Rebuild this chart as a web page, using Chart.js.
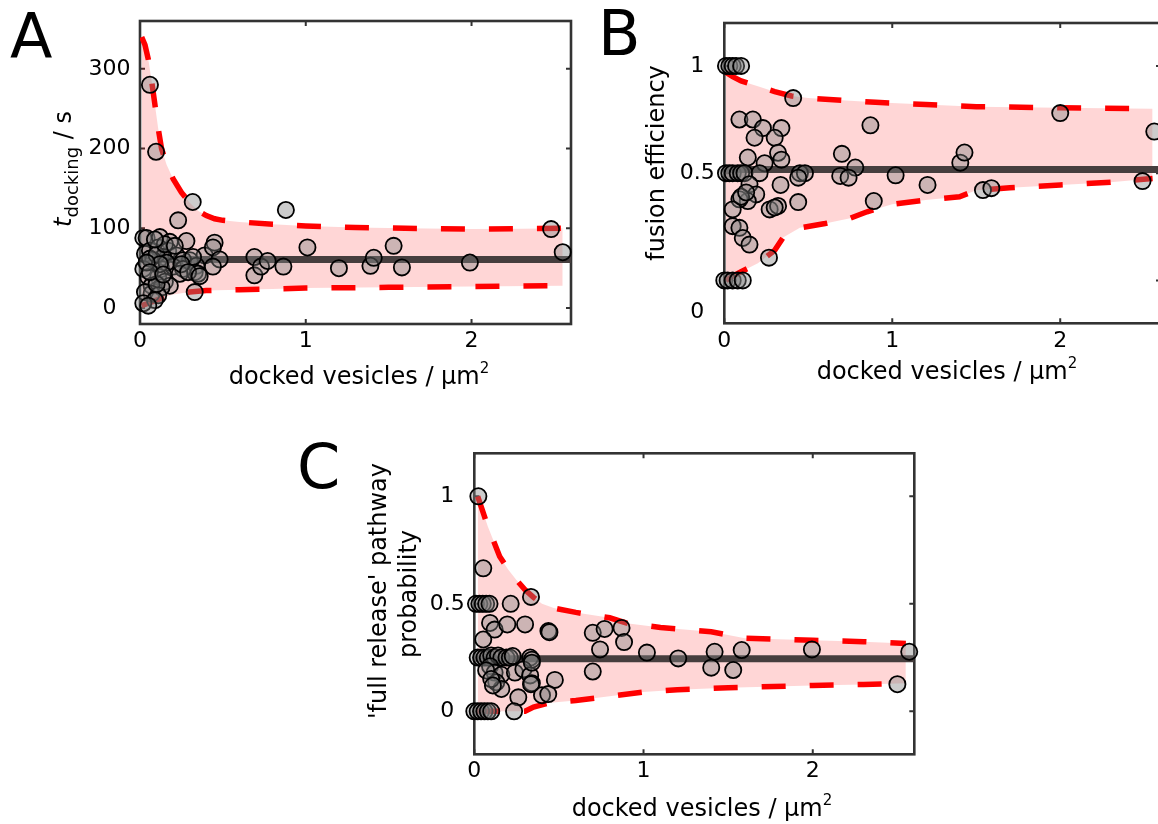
<!DOCTYPE html>
<html>
<head>
<meta charset="utf-8">
<script src="https://cdn.jsdelivr.net/npm/chart.js@4.4.1/dist/chart.umd.min.js"></script>
<style>
  html, body { margin:0; padding:0; background:#fff; overflow:hidden; width:1158px; height:824px; position:relative; }
  canvas { position:absolute; display:block; }
  .letter { position:absolute; font-family:'DejaVu Sans', sans-serif; font-size:62px; line-height:1; color:#000; }
</style>
</head>
<body>
<canvas id="cA" width="600" height="400" style="left:0px;top:0px"></canvas>
<canvas id="cB" width="620" height="400" style="left:580px;top:0px"></canvas>
<canvas id="cC" width="660" height="404" style="left:290px;top:420px"></canvas>
<div class="letter" style="left:10px;top:6px">A</div>
<div class="letter" style="left:598px;top:3px">B</div>
<div class="letter" style="left:297px;top:436px">C</div>
<script>
// ---------------- data ----------------
const xTicks = [0, 1, 2];
const xMin = 0, xMax = 2.6;

// Panel A: docking time (s)
const yTicksA = [0, 100, 200, 300];
const pointsA = [
  [0.02,88],[0.04,88],[0.12,89],[0.18,83],[0.28,84],[0.23,110],[0.06,280],[0.097,196],[0.318,133],
  [0.03,68],[0.06,72],[0.11,76],[0.17,72],[0.22,66],[0.14,64],[0.08,60],[0.30,60],[0.26,60],[0.39,66],
  [0.02,49],[0.13,49],[0.20,52],[0.26,49],[0.34,53],[0.33,45],[0.24,43],[0.11,39],[0.05,39],[0.15,33],
  [0.18,28],[0.13,26],[0.07,28],[0.07,18],[0.03,20],[0.11,16],[0.09,10],[0.02,6],[0.05,3],[0.33,20],
  [0.45,82],[0.44,76],[0.48,61],[0.44,52],[0.35,43],[0.32,64],
  [0.06,62],[0.10,67],[0.15,80],[0.09,86],[0.21,78],[0.16,57],[0.12,55],[0.04,57],[0.25,55],[0.29,45],
  [0.36,40],[0.10,30],[0.06,45],[0.14,42],
  [0.69,64],[0.69,41],[0.73,52],[0.77,59],[0.865,52],[0.88,123],
  [1.01,76],[1.20,50],[1.39,53],[1.41,63],[1.53,78],[1.58,51],[1.99,57],[2.48,99],[2.55,70]
];
const upperA = [[0.01,340],[0.03,330],[0.05,312],[0.07,285],[0.09,255],[0.11,225],[0.13,200],[0.16,180],
  [0.2,162],[0.25,145],[0.3,132],[0.35,122],[0.4,116],[0.45,112],[0.5,110],[0.6,108],[0.8,105],[1.0,103],
  [1.3,101],[1.6,100],[2.0,99],[2.3,99.5],[2.55,100]];
const lowerA = [[0.01,3],[0.05,6],[0.1,10],[0.15,14],[0.2,17],[0.3,20],[0.4,22],[0.6,23],[0.8,24],
  [1.0,25],[1.5,26],[2.0,27],[2.55,28]];
const meanA = 61;

// Panel B: fusion efficiency
const yTicksB = [0, 0.5, 1];
const pointsB = [
  [0.01,1],[0.03,1],[0.05,1],[0.07,1],[0.10,1],
  [0.41,0.85],
  [0.09,0.75],[0.17,0.75],[0.23,0.71],[0.18,0.665],[0.34,0.71],[0.30,0.665],[0.87,0.723],
  [0.14,0.573],[0.32,0.595],[0.34,0.563],[0.24,0.546],[0.70,0.59],[0.78,0.526],
  [0.01,0.5],[0.03,0.5],[0.05,0.5],[0.08,0.5],[0.10,0.5],[0.12,0.5],[0.21,0.5],[0.45,0.5],[0.48,0.5],
  [0.44,0.479],[0.69,0.487],[0.74,0.479],[1.02,0.49],[1.21,0.445],[1.405,0.549],[1.43,0.596],
  [1.54,0.421],[1.59,0.43],[2.0,0.78],[2.49,0.463],[2.56,0.694],
  [0.89,0.37],[0.335,0.445],[0.15,0.448],[0.19,0.401],[0.14,0.37],[0.09,0.378],[0.05,0.331],
  [0.27,0.331],[0.32,0.347],[0.44,0.365],[0.30,0.34],[0.10,0.39],[0.13,0.41],
  [0.05,0.253],[0.09,0.245],[0.11,0.198],[0.15,0.167],[0.266,0.106],
  [0.00,0],[0.02,0],[0.05,0],[0.08,0],[0.11,0]
];
const upperB = [[0.01,0.97],[0.05,0.95],[0.1,0.93],[0.2,0.905],[0.3,0.88],[0.4,0.86],[0.5,0.85],
  [0.7,0.84],[0.9,0.83],[1.2,0.82],[1.5,0.81],[2.0,0.805],[2.55,0.8]];
const lowerB = [[0.01,0.0],[0.05,0.02],[0.1,0.04],[0.15,0.06],[0.2,0.08],[0.25,0.11],[0.3,0.14],
  [0.35,0.2],[0.45,0.245],[0.6,0.265],[0.75,0.29],[0.85,0.32],[1.0,0.355],[1.2,0.375],[1.4,0.39],
  [1.5,0.42],[1.7,0.432],[2.0,0.445],[2.3,0.458],[2.55,0.475]];
const meanB = 0.517;

// Panel C: 'full release' pathway probability
const yTicksC = [0, 0.5, 1];
const pointsC = [
  [0.024,1.0],[0.053,0.665],
  [0.01,0.5],[0.03,0.5],[0.05,0.5],[0.07,0.5],[0.09,0.5],[0.215,0.5],[0.335,0.532],
  [0.093,0.411],[0.12,0.38],[0.195,0.404],[0.30,0.404],[0.438,0.373],[0.444,0.368],[0.053,0.334],
  [0.70,0.365],[0.77,0.383],[0.87,0.388],[0.743,0.288],[0.885,0.322],[1.02,0.273],[0.70,0.185],
  [1.205,0.246],[1.42,0.277],[1.40,0.203],[1.53,0.192],[1.58,0.285],[1.995,0.288],[2.50,0.126],[2.57,0.277],
  [0.02,0.25],[0.04,0.25],[0.06,0.25],[0.08,0.25],[0.10,0.26],[0.12,0.25],[0.14,0.26],[0.16,0.25],
  [0.19,0.25],[0.21,0.25],[0.33,0.25],[0.34,0.24],
  [0.093,0.21],[0.12,0.18],[0.16,0.17],[0.13,0.135],[0.16,0.104],[0.24,0.18],[0.29,0.195],[0.33,0.167],
  [0.34,0.131],[0.476,0.146],[0.40,0.075],[0.437,0.08],[0.26,0.065],[0.227,0.257],[0.34,0.226],[0.335,0.126],
  [0.07,0.19],[0.10,0.15],[0.11,0.12],
  [0.00,0],[0.02,0],[0.04,0],[0.06,0],[0.08,0],[0.10,0],[0.235,0]
];
const upperC = [[0.02,1.0],[0.05,0.93],[0.08,0.86],[0.11,0.8],[0.15,0.72],[0.2,0.66],[0.25,0.61],
  [0.3,0.565],[0.35,0.53],[0.4,0.5],[0.47,0.48],[0.6,0.46],[0.8,0.435],[0.9,0.41],[1.1,0.39],[1.4,0.37],
  [1.6,0.34],[2.0,0.33],[2.3,0.324],[2.55,0.315]];
const lowerC = [[0.01,0],[0.3,0],[0.35,0.02],[0.45,0.04],[0.6,0.05],[0.8,0.07],[1.0,0.09],[1.2,0.1],
  [1.5,0.11],[2.0,0.12],[2.3,0.125],[2.55,0.13]];
const meanC = 0.245;

// ---------------- drawing ----------------
const FONT = "'DejaVu Sans', sans-serif";
const toXY = arr => arr.map(p => ({x: p[0], y: p[1]}));

function drawRuns(ctx, runs, px, py, rot) {
  ctx.save();
  ctx.translate(px, py);
  ctx.rotate(rot);
  ctx.textBaseline = 'alphabetic';
  ctx.textAlign = 'left';
  ctx.fillStyle = '#000';
  let total = 0;
  runs.forEach(r => { ctx.font = r.font; r.w = ctx.measureText(r.text).width; total += r.w; });
  let x = -total / 2;
  runs.forEach(r => { ctx.font = r.font; ctx.fillText(r.text, x, r.dy || 0); x += r.w; });
  ctx.restore();
}

function panelPlugin(p) {
  return {
    id: 'panel' + p.id,
    beforeDatasetsDraw(chart) {
      const {ctx, chartArea: a, scales: {x, y}} = chart;
      ctx.save();
      ctx.strokeStyle = '#333';
      ctx.lineWidth = 2.6;
      ctx.strokeRect(a.left, a.top, a.right - a.left, a.bottom - a.top);
      ctx.lineWidth = 2;
      const tl = 5;
      ctx.beginPath();
      p.xTicks.forEach(v => {
        const px = x.getPixelForValue(v);
        ctx.moveTo(px, a.bottom); ctx.lineTo(px, a.bottom - tl);
        ctx.moveTo(px, a.top); ctx.lineTo(px, a.top + tl);
      });
      p.yTicks.forEach(v => {
        const py = y.getPixelForValue(v);
        ctx.moveTo(a.left, py); ctx.lineTo(a.left + tl, py);
        ctx.moveTo(a.right, py); ctx.lineTo(a.right - tl, py);
      });
      ctx.stroke();
      ctx.restore();
    },
    afterDraw(chart) {
      const ctx = chart.ctx;
      p.titles.forEach(t => drawRuns(ctx, t.runs, t.x - p.ox, t.y - p.oy, t.rot || 0));
    }
  };
}

function makeChart(p) {
  const canvas = document.getElementById(p.canvas);
  const W = canvas.width, H = canvas.height;
  const a = p.area; // page coords of plot box
  const L = a.left - p.ox, T = a.top - p.oy, R = W - (a.right - p.ox), B = H - (a.bottom - p.oy);
  const tickFont = {family: FONT, size: 22};
  return new Chart(canvas, {
    type: 'scatter',
    data: {
      datasets: [
        {type: 'line', data: toXY(p.lower), borderColor: '#ff0000', borderWidth: 5.5, borderDash: [24, 24],
          pointRadius: 0, fill: false, order: 3, tension: 0},
        {type: 'line', data: toXY(p.upper), borderColor: '#ff0000', borderWidth: 5.5, borderDash: [24, 24],
          pointRadius: 0, fill: '-1', backgroundColor: 'rgba(255,0,0,0.16)', order: 3, tension: 0},
        {type: 'line', data: [{x: xMin, y: p.mean}, {x: xMax, y: p.mean}], borderColor: 'rgb(70,62,62)',
          borderWidth: 7, pointRadius: 0, fill: false, order: 2},
        {type: 'scatter', data: toXY(p.points), pointRadius: 8.1, borderWidth: 1.8, borderColor: '#000',
          backgroundColor: 'rgba(128,128,128,0.4)', order: 1, clip: false}
      ]
    },
    options: {
      responsive: false, animation: false, events: [],
      layout: {padding: {left: 0, top: T, right: R, bottom: 0}},
      plugins: {legend: {display: false}, tooltip: {enabled: false}},
      scales: {
        x: {
          type: 'linear', min: xMin, max: xMax,
          grid: {display: false, drawTicks: false}, border: {display: false},
          afterBuildTicks: s => { s.ticks = p.xTicks.map(v => ({value: v})); },
          afterFit: s => { s.height = B; s.paddingLeft = 0; s.paddingRight = 0; },
          ticks: {font: tickFont, color: '#000', padding: p.xPad, maxRotation: 0, autoSkip: false,
            callback: v => String(v)}
        },
        y: {
          type: 'linear', min: p.yMin, max: p.yMax,
          grid: {display: false, drawTicks: false}, border: {display: false},
          afterBuildTicks: s => { s.ticks = p.yTicks.map(v => ({value: (p.labelShift && p.labelShift[v] !== undefined) ? p.labelShift[v] : v})); },
          afterFit: s => { s.width = L; s.paddingTop = 0; s.paddingBottom = 0; },
          ticks: {font: tickFont, color: '#000', padding: 9.5, crossAlign: 'center', autoSkip: false,
            callback: v => (p.labelText && p.labelText[v] !== undefined) ? p.labelText[v] : String(v)}
        }
      }
    },
    plugins: [panelPlugin(p)]
  });
}

const T24 = "24px " + FONT;
const xTitleRuns = () => [{text: 'docked vesicles / μm', font: T24}, {text: '2', font: "15px " + FONT, dy: -11}];

makeChart({
  id: 'A', canvas: 'cA', ox: 0, oy: 0,
  area: {left: 140, top: 21, right: 571, bottom: 324},
  yMin: -20, yMax: 360, xTicks: xTicks, yTicks: yTicksA, xPad: 4,
  points: pointsA, upper: upperA, lower: lowerA, mean: meanA,
  titles: [
    {runs: xTitleRuns(), x: 359, y: 384},
    {runs: [{text: 't', font: "italic " + T24}, {text: 'docking', font: "18px " + FONT, dy: 7}, {text: ' / s', font: T24}],
      x: 71, y: 169, rot: -Math.PI / 2}
  ]
});

makeChart({
  id: 'B', canvas: 'cB', ox: 580, oy: 0,
  area: {left: 724.3, top: 23, right: 1161, bottom: 323.3},
  yMin: -0.2, yMax: 1.2, xTicks: xTicks, yTicks: yTicksB, xPad: 5,
  labelShift: {0: -0.148}, labelText: {'-0.148': '0'},
  points: pointsB, upper: upperB, lower: lowerB, mean: meanB,
  titles: [
    {runs: xTitleRuns(), x: 947, y: 379},
    {runs: [{text: 'fusion efficiency', font: T24}], x: 664, y: 163, rot: -Math.PI / 2}
  ]
});

makeChart({
  id: 'C', canvas: 'cC', ox: 290, oy: 420,
  area: {left: 474.3, top: 453.3, right: 914.3, bottom: 754.3},
  yMin: -0.2, yMax: 1.2, xTicks: xTicks, yTicks: yTicksC, xPad: 4,
  points: pointsC, upper: upperC, lower: lowerC, mean: meanC,
  titles: [
    {runs: xTitleRuns(), x: 702, y: 816},
    {runs: [{text: "'full release' pathway", font: T24}], x: 386, y: 591, rot: -Math.PI / 2},
    {runs: [{text: 'probability', font: T24}], x: 416, y: 594, rot: -Math.PI / 2}
  ]
});
</script>
</body>
</html>
